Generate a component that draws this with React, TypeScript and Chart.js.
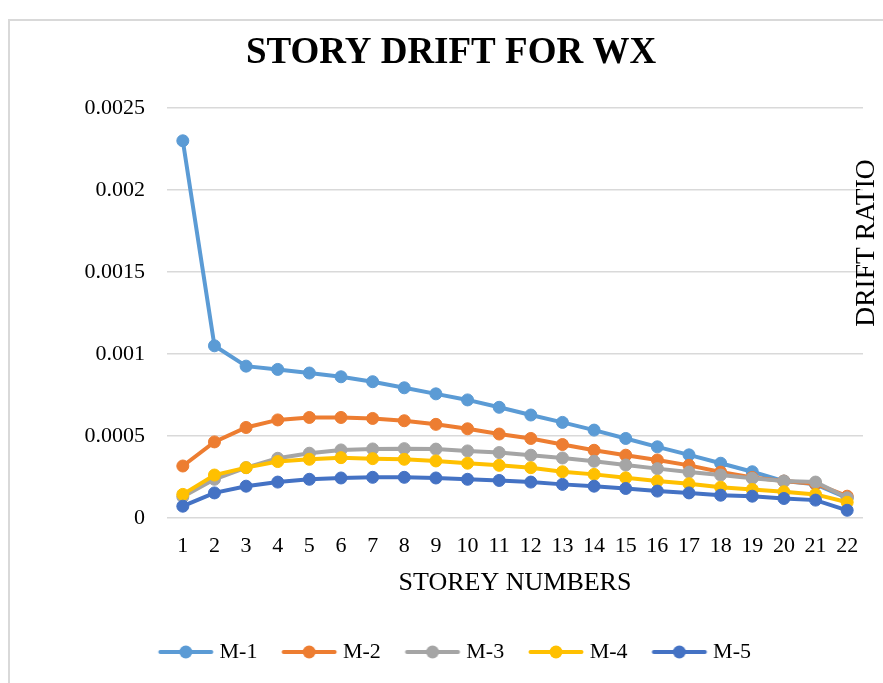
import React, { useEffect, useRef } from "react";
import { Chart, registerables } from "chart.js";

Chart.register(...registerables);

const storeys = ["1","2","3","4","5","6","7","8","9","10","11","12","13","14","15","16","17","18","19","20","21","22"];

const m1 = [0.0023, 0.00105, 0.000926, 0.000906, 0.000884, 0.000861, 0.000831, 0.000794, 0.000757, 0.00072, 0.000675, 0.000628, 0.000583, 0.000536, 0.000485, 0.000434, 0.000385, 0.000334, 0.000282, 0.000225, 0.000205, 0.000123];
const m2 = [0.000317, 0.000464, 0.000552, 0.000598, 0.000613, 0.000613, 0.000607, 0.000593, 0.000571, 0.000544, 0.000512, 0.000485, 0.000448, 0.000413, 0.000383, 0.000354, 0.000321, 0.00028, 0.000247, 0.000225, 0.000209, 0.000133];
const m3 = [0.000129, 0.000236, 0.000307, 0.000364, 0.000395, 0.000415, 0.000421, 0.000423, 0.00042, 0.000409, 0.000399, 0.000383, 0.000366, 0.000346, 0.000323, 0.000301, 0.00028, 0.000262, 0.000242, 0.000225, 0.000219, 0.000123];
const m4 = [0.000144, 0.000262, 0.000307, 0.000344, 0.000358, 0.000368, 0.000362, 0.000358, 0.000348, 0.000334, 0.000321, 0.000307, 0.000282, 0.000266, 0.000245, 0.000225, 0.000209, 0.000188, 0.000174, 0.00016, 0.000144, 0.000096];
const m5 = [0.000072, 0.000153, 0.000194, 0.000219, 0.000236, 0.000244, 0.000248, 0.000248, 0.000244, 0.000236, 0.000229, 0.000219, 0.000205, 0.000194, 0.00018, 0.000164, 0.000153, 0.000139, 0.000133, 0.000119, 0.000109, 0.000047];

const seriesNames = ["M-1", "M-2", "M-3", "M-4", "M-5"];
const seriesColors = ["#5B9BD5", "#ED7D31", "#A5A5A5", "#FFC000", "#4472C4"];
const seriesValues = [m1, m2, m3, m4, m5];

const yTickValues = [0, 0.0005, 0.001, 0.0015, 0.002, 0.0025];
const yTickLabels = ["0", "0.0005", "0.001", "0.0015", "0.002", "0.0025"];

const chartTitle = "STORY DRIFT FOR WX";
const xTitle = "STOREY NUMBERS";
const yTitle = "DRIFT RATIO";

const FONT = '"Liberation Serif", "Times New Roman", serif';

function legendImage(color: string): HTMLCanvasElement {
  const c = document.createElement("canvas");
  c.width = 100;
  c.height = 14;
  const g = c.getContext("2d")!;
  const a = 28.5;
  g.strokeStyle = color;
  g.lineWidth = 4;
  g.lineCap = "round";
  g.beginPath();
  g.moveTo(a + 2, 7);
  g.lineTo(a + 53, 7);
  g.stroke();
  g.fillStyle = color;
  g.beginPath();
  g.arc(a + 27.5, 7, 6.5, 0, Math.PI * 2);
  g.fill();
  return c;
}

export default function App() {
  const ref = useRef<HTMLCanvasElement | null>(null);

  useEffect(() => {
    if (!ref.current) return;
    const imgs = seriesColors.map(legendImage);

    const frame = {
      id: "frame",
      beforeDraw(chart: any) {
        const ctx = chart.ctx;
        ctx.save();
        ctx.fillStyle = "#ffffff";
        ctx.fillRect(0, 0, chart.width, chart.height);
        ctx.strokeStyle = "#d9d9d9";
        ctx.lineWidth = 2;
        ctx.strokeRect(9, 20, 2000, 2000);
        ctx.restore();
      },
      afterDraw(chart: any) {
        const ctx = chart.ctx;
        const area = chart.chartArea;
        ctx.save();
        ctx.translate(866.5, (area.top + area.bottom) / 2 - 70);
        ctx.rotate(-Math.PI / 2);
        ctx.font = `27.5px ${FONT}`;
        ctx.fillStyle = "#000";
        ctx.textAlign = "center";
        ctx.textBaseline = "middle";
        ctx.fillText(yTitle, 0, 0);
        ctx.restore();
      },
    };

    const chart = new Chart(ref.current, {
      type: "line",
      data: {
        labels: storeys,
        datasets: seriesValues.map((vals, i) => ({
          label: seriesNames[i],
          data: vals,
          borderColor: seriesColors[i],
          backgroundColor: seriesColors[i],
          pointBackgroundColor: seriesColors[i],
          pointBorderColor: seriesColors[i],
          borderWidth: 4,
          pointRadius: 6,
          pointBorderWidth: 1,
          tension: 0,
          order: seriesValues.length - i,
        })),
      },
      options: {
        responsive: false,
        animation: false,
        devicePixelRatio: 1,
        layout: { padding: { top: 20, left: 19, right: 0, bottom: 10 } },
        plugins: {
          tooltip: { enabled: false },
          title: {
            display: true,
            text: chartTitle,
            color: "#000",
            font: { family: FONT, size: 37, weight: "bold" },
            padding: { top: 11, bottom: 32.6 },
          },
          legend: {
            position: "bottom",
            labels: {
              usePointStyle: true,
              pointStyleWidth: 57.5,
              padding: 17,
              color: "#000",
              font: { family: FONT, size: 22 },
              sort: (a: any, b: any) => a.datasetIndex - b.datasetIndex,
              generateLabels: (ch: any) => {
                const items = Chart.defaults.plugins.legend.labels.generateLabels(ch);
                return items.map((it: any) => ({ ...it, pointStyle: imgs[it.datasetIndex] }));
              },
            },
          },
        },
        scales: {
          x: {
            offset: true,
            afterFit: (s: any) => { s.height = 106; },
            grid: { display: false, drawTicks: false },
            border: { display: false },
            ticks: { color: "#000", font: { family: FONT, size: 22 }, padding: 15, maxRotation: 0, autoSkip: false },
            title: {
              display: true,
              text: xTitle,
              color: "#000",
              font: { family: FONT, size: 26 },
              padding: { top: 8, bottom: 25 },
            },
          },
          y: {
            min: 0,
            max: 0.0025,
            afterFit: (s: any) => { s.width = 148; },
            afterBuildTicks: (s: any) => { s.ticks = yTickValues.map((v) => ({ value: v })); },
            grid: { color: "#d9d9d9", lineWidth: 1.5, drawTicks: false },
            border: { display: false },
            ticks: {
              color: "#000",
              font: { family: FONT, size: 22 },
              padding: 22,
              callback: (v: any) => {
                const idx = yTickValues.findIndex((t) => Math.abs(t - v) < 1e-9);
                return idx >= 0 ? yTickLabels[idx] : "";
              },
            },
          },
          y2: {
            position: "right",
            display: true,
            afterFit: (s: any) => { s.width = 20; },
            grid: { display: false, drawTicks: false },
            border: { display: false },
            ticks: { display: false },
          },
        },
      },
      plugins: [frame],
    });
    return () => chart.destroy();
  }, []);

  return (
    <div style={{ position: "fixed", left: 0, top: 0, width: 883, height: 683 }}>
      <canvas ref={ref} width={883} height={683} style={{ width: 883, height: 683, display: "block" }} />
    </div>
  );
}
